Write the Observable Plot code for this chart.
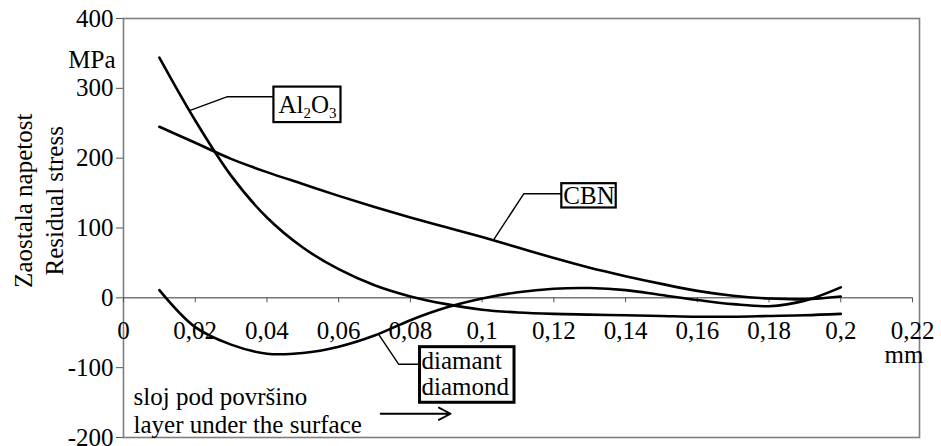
<!DOCTYPE html>
<html>
<head>
<meta charset="utf-8">
<script src="https://cdn.jsdelivr.net/npm/d3@7"></script>
<script src="https://cdn.jsdelivr.net/npm/@observablehq/plot@0.6"></script>
</head>
<body style="margin:0">
<div id="chart"></div>
<script>
// ---- data ----
const depth = [0.01, 0.02, 0.03, 0.04, 0.05, 0.06, 0.07, 0.08, 0.09, 0.10,
               0.11, 0.12, 0.13, 0.14, 0.15, 0.16, 0.17, 0.18, 0.19, 0.20];
const al2o3   = [344, 254, 175, 115, 72, 41, 18, 2, -9, -17, -21, -23, -24, -25, -26, -27, -27, -26, -25, -23];
const cbn     = [245, 222, 199, 180, 163, 146, 130, 115, 101, 87, 72, 57, 43, 31, 20, 10, 3, -1, -2, 2];
const diamond = [11, -42, -67, -80, -79, -70, -54, -32, -14, -1, 8, 13, 14, 11, 4, -3, -9, -12, -4, 15];

const xTicks = [0, 0.02, 0.04, 0.06, 0.08, 0.10, 0.12, 0.14, 0.16, 0.18, 0.20, 0.22];
const xTickLabels = ["0", "0,02", "0,04", "0,06", "0,08", "0,1", "0,12", "0,14", "0,16", "0,18", "0,2", "0,22"];
const yTicks = [-200, -100, 0, 100, 200, 300, 400];

// annotation leaders (data coordinates)
const leaderAl  = [[0.0184, 268], [0.029, 288], [0.0418, 288]];
const leaderCbn = [[0.1032, 83], [0.1116, 149], [0.1222, 149]];
const leaderDia = [[0.0711, -52], [0.0767, -95], [0.0826, -95]];

const series = [
  ...depth.map((x, i) => ({x, y: al2o3[i], s: "Al2O3"})),
  ...depth.map((x, i) => ({x, y: cbn[i], s: "CBN"})),
  ...depth.map((x, i) => ({x, y: diamond[i], s: "diamond"}))
];
const leaders = [
  ...leaderAl.map(([x, y]) => ({x, y, g: "al"})),
  ...leaderCbn.map(([x, y]) => ({x, y, g: "cbn"})),
  ...leaderDia.map(([x, y]) => ({x, y, g: "dia"}))
];

const FONT = "Liberation Serif";
const FS = 25;

const chart = Plot.plot({
  width: 941,
  height: 446,
  marginLeft: 123,
  marginRight: 29,
  marginTop: 18,
  marginBottom: 9,
  x: {domain: [0, 0.22], axis: null},
  y: {domain: [-200, 400], axis: null},
  marks: [
    Plot.frame({stroke: "#7f7f7f", strokeWidth: 1.6, insetRight: -7}),
    Plot.axisY(yTicks, {label: null, tickSize: 7, tickPadding: 3, fontSize: FS, fontFamily: FONT, tickFormat: d => String(d), stroke: "#555"}),
    // x axis at y = 0
    Plot.ruleY([0], {x1: 0, x2: 0.22, stroke: "#333", strokeWidth: 1}),
    Plot.ruleX(xTicks, {x: d => d, y1: 0, y2: 0, insetBottom: -5, stroke: "#555", strokeWidth: 1}),
    Plot.text(xTicks, {x: d => d, y: 0, dy: 33, text: (d, i) => xTickLabels[i], fontSize: FS, fontFamily: FONT, lineAnchor: "middle", fill: "#000"}),
    // curves
    Plot.line(series, {x: "x", y: "y", z: "s", curve: "catmull-rom", stroke: "#000", strokeWidth: 2.6}),
    // leaders
    Plot.line(leaders, {x: "x", y: "y", z: "g", stroke: "#000", strokeWidth: 1.4}),
    // labels
    Plot.text(["Al2O3"], {x: 0.0432, y: 276, text: d => d, textAnchor: "start", lineAnchor: "middle", fontSize: FS, fontFamily: FONT, fill: "#000", ariaDescription: "box-al"}),
    Plot.text(["CBN"], {x: 0.1298, y: 146, text: d => d, textAnchor: "middle", lineAnchor: "middle", fontSize: FS, fontFamily: FONT, fill: "#000", ariaDescription: "box-cbn"}),
    Plot.text(["diamant\ndiamond"], {x: 0.0831, y: -75, text: d => d, textAnchor: "start", lineAnchor: "top", lineHeight: 1.04, fontSize: FS, fontFamily: FONT, fill: "#000", ariaDescription: "box-dia"}),
    Plot.text(["sloj pod površino\nlayer under the surface"], {x: 0.0028, y: -125, text: d => d, textAnchor: "start", lineAnchor: "top", lineHeight: 1.13, fontSize: FS, fontFamily: FONT, fill: "#000"}),
    Plot.arrow([{x1: 0.0717, x2: 0.0912, y: -166}], {x1: "x1", x2: "x2", y1: "y", y2: "y", stroke: "#000", strokeWidth: 1.8, headLength: 11, headAngle: 55}),
    Plot.text(["MPa"], {x: 0, y: 340, dx: -8, text: d => d, textAnchor: "end", lineAnchor: "middle", fontSize: FS, fontFamily: FONT, fill: "#000"}),
    Plot.text(["mm"], {x: 0.2176, y: -82, text: d => d, textAnchor: "middle", lineAnchor: "middle", fontSize: FS, fontFamily: FONT, fill: "#000"}),
    Plot.text(["Zaostala napetost\nResidual stress"], {x: 0, y: 139, dx: -86, rotate: -90, text: d => d, textAnchor: "middle", lineAnchor: "middle", lineHeight: 1.24, fontSize: FS, fontFamily: FONT, fill: "#000"})
  ]
});

document.getElementById("chart").appendChild(chart);

// Al2O3 with subscripts
const svgNS = "http://www.w3.org/2000/svg";
const alText = chart.querySelector('g[aria-description="box-al"] text');
if (alText) {
  alText.textContent = "";
  const parts = [["Al", 0, FS], ["2", 5, 15], ["O", -5, FS], ["3", 5, 15]];
  for (const [t, dy, fs] of parts) {
    const ts = document.createElementNS(svgNS, "tspan");
    ts.setAttribute("dy", dy);
    ts.setAttribute("font-size", fs);
    ts.textContent = t;
    alText.appendChild(ts);
  }
}

// boxes around annotation labels
const boxes = [
  {id: "box-al", padL: 5, padR: 4, padT: 4.5, padB: 1, sw: 2.2},
  {id: "box-cbn", padL: 2, padR: 1, padT: -1.3, padB: -1.4, sw: 2.2},
  {id: "box-dia", padL: 2, padR: 4.5, padT: 0, padB: 2.6, sw: 3}
];
for (const b of boxes) {
  const t = chart.querySelector(`g[aria-description="${b.id}"] text`);
  if (!t) continue;
  const bb = t.getBBox();
  const r = document.createElementNS(svgNS, "rect");
  r.setAttribute("x", bb.x - b.padL);
  r.setAttribute("y", bb.y - b.padT);
  r.setAttribute("width", bb.width + b.padL + b.padR);
  r.setAttribute("height", bb.height + b.padT + b.padB);
  r.setAttribute("fill", "#fff");
  r.setAttribute("stroke", "#000");
  r.setAttribute("stroke-width", b.sw);
  const tr = t.getAttribute("transform");
  if (tr) r.setAttribute("transform", tr);
  t.parentNode.insertBefore(r, t);
}
</script>
</body>
</html>
